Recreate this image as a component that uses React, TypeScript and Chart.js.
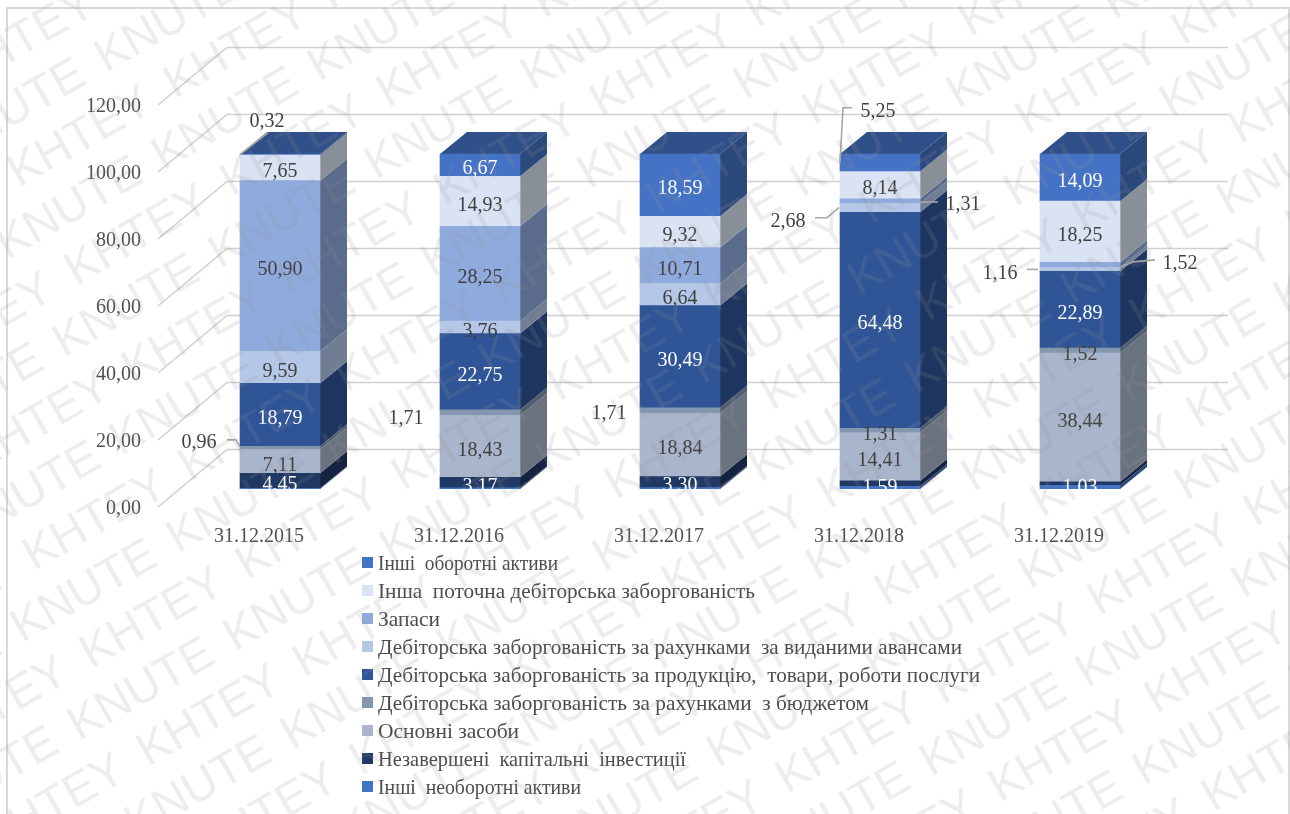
import React, { useEffect, useRef } from "react";
import { Chart, registerables } from "chart.js";

Chart.register(...registerables);

const categories = ["31.12.2015", "31.12.2016", "31.12.2017", "31.12.2018", "31.12.2019"];

const otherNonCurrent = [0.23, 0.33, 0.4, 0.83, 1.1];
const unfinishedInvestment = [4.45, 3.17, 3.3, 1.59, 1.03];
const fixedAssets = [7.11, 18.43, 18.84, 14.41, 38.44];
const budgetReceivables = [0.96, 1.71, 1.71, 1.31, 1.52];
const tradeReceivables = [18.79, 22.75, 30.49, 64.48, 22.89];
const advanceReceivables = [9.59, 3.76, 6.64, 2.68, 1.16];
const inventories = [50.9, 28.25, 10.71, 1.31, 1.52];
const otherReceivables = [7.65, 14.93, 9.32, 8.14, 18.25];
const otherCurrent = [0.32, 6.67, 18.59, 5.25, 14.09];

const seriesNames = [
  "Інші  необоротні активи",
  "Незавершені  капітальні  інвестиції",
  "Основні засоби",
  "Дебіторська заборгованість за рахунками  з бюджетом",
  "Дебіторська заборгованість за продукцію,  товари, роботи послуги",
  "Дебіторська заборгованість за рахунками  за виданими авансами",
  "Запаси",
  "Інша  поточна дебіторська заборгованість",
  "Інші  оборотні активи",
];
const seriesValues = [
  otherNonCurrent,
  unfinishedInvestment,
  fixedAssets,
  budgetReceivables,
  tradeReceivables,
  advanceReceivables,
  inventories,
  otherReceivables,
  otherCurrent,
];
const seriesColors = [
  "#4472C4",
  "#203864",
  "#A9B5CB",
  "#8497B0",
  "#2F5597",
  "#B4C7E7",
  "#8FAADC",
  "#DAE3F3",
  "#4472C4",
];
const whiteLabelSeries = [1, 4, 8];
const unlabelledSeries = [0];

// Width each key entry is set to, in series order.
const keyTextWidths = [203, 308, 143, 491, 602, 584, 63, 377, 180];

// Labels that sit away from their segment: offset from the segment centre and leader points.
type Callout = { dx: number; dy: number; leader?: [number, number][] };
const callouts: Record<string, Callout> = {
  "8-0": { dx: -13, dy: -33, leader: [[-40, 0], [-12, -22]] },
  "3-0": { dx: -81, dy: -5, leader: [[-53, -8], [-44, -8], [-40, -1]] },
  "3-1": { dx: -74, dy: 6 },
  "3-2": { dx: -71, dy: 3 },
  "5-3": { dx: -92, dy: 14, leader: [[-65, 10], [-53, 10], [-41, 0]] },
  "6-3": { dx: 83, dy: 4, leader: [[40, 1], [58, 1]] },
  "8-3": { dx: -2, dy: -51, leader: [[-40, 0], [-37, -55], [-28, -55]] },
  "5-4": { dx: -80, dy: 4, leader: [[-53, 0], [-42, 0]] },
  "6-4": { dx: 100, dy: -1, leader: [[40, 2], [53, -3], [75, -5]] },
};

const SERIF = '"Liberation Serif"';
const BAR_DEPTH = { x: 27, y: -22 };
const WALL_FRONT = { x: 158, y: 18 };
const WALL_BACK = { x: 227, y: -39.5 };
const WALL_RIGHT = 1228;

function shade(hex: string, k: number): string {
  const n = parseInt(hex.slice(1), 16);
  const c = [(n >> 16) & 255, (n >> 8) & 255, n & 255].map((v) => Math.round(v * k));
  return `rgb(${c[0]},${c[1]},${c[2]})`;
}

const fmt = (v: number) => v.toFixed(2).replace(".", ",");

// Walls and the side and top faces of each column, under the front faces.
const depthPlugin = {
  id: "depth",
  beforeDatasetsDraw(chart: any) {
    const { ctx, scales } = chart;
    ctx.save();
    ctx.strokeStyle = "#D0D0D0";
    ctx.lineWidth = 1.6;
    for (const tick of scales.y.ticks) {
      const y = scales.y.getPixelForValue(tick.value);
      ctx.beginPath();
      ctx.moveTo(WALL_FRONT.x, y + WALL_FRONT.y);
      ctx.lineTo(WALL_BACK.x, y + WALL_BACK.y);
      ctx.lineTo(WALL_RIGHT, y + WALL_BACK.y);
      ctx.stroke();
    }
    chart.data.datasets.forEach((ds: any, d: number) => {
      chart.getDatasetMeta(d).data.forEach((bar: any) => {
        const right = bar.x + bar.width / 2;
        const left = bar.x - bar.width / 2;
        ctx.fillStyle = shade(ds.backgroundColor, 0.63);
        ctx.beginPath();
        ctx.moveTo(right, bar.base);
        ctx.lineTo(right + BAR_DEPTH.x, bar.base + BAR_DEPTH.y);
        ctx.lineTo(right + BAR_DEPTH.x, bar.y + BAR_DEPTH.y);
        ctx.lineTo(right, bar.y);
        ctx.closePath();
        ctx.fill();
        if (d === chart.data.datasets.length - 1) {
          ctx.fillStyle = shade(ds.backgroundColor, 0.7);
          ctx.beginPath();
          ctx.moveTo(left, bar.y);
          ctx.lineTo(left + BAR_DEPTH.x, bar.y + BAR_DEPTH.y);
          ctx.lineTo(right + BAR_DEPTH.x, bar.y + BAR_DEPTH.y);
          ctx.lineTo(right, bar.y);
          ctx.closePath();
          ctx.fill();
        }
      });
    });
    ctx.restore();
  },
};

// Value labels with their leader lines.
const labelPlugin = {
  id: "valueLabels",
  afterDatasetsDraw(chart: any) {
    const { ctx, scales } = chart;
    const floor = scales.y.getPixelForValue(0);
    ctx.save();
    ctx.font = `20px ${SERIF}`;
    ctx.textAlign = "center";
    ctx.textBaseline = "middle";
    chart.data.datasets.forEach((ds: any, d: number) => {
      if (unlabelledSeries.includes(d)) return;
      chart.getDatasetMeta(d).data.forEach((bar: any, i: number) => {
        const cy = (bar.y + bar.base) / 2;
        const c = callouts[`${d}-${i}`];
        if (c && c.leader) {
          ctx.strokeStyle = "#A6A6A6";
          ctx.lineWidth = 1.6;
          ctx.beginPath();
          c.leader.forEach(([lx, ly], k) => {
            if (k === 0) ctx.moveTo(bar.x + lx, cy + ly);
            else ctx.lineTo(bar.x + lx, cy + ly);
          });
          ctx.stroke();
        }
        ctx.fillStyle = !c && whiteLabelSeries.includes(d) ? "#FFFFFF" : "#404040";
        const text = fmt(ds.data[i]);
        ctx.save();
        if (!c) {
          // Labels of the lowest segments are cut off at the column's foot.
          ctx.beginPath();
          ctx.rect(0, 0, chart.width, floor);
          ctx.clip();
        }
        ctx.fillText(text, bar.x + (c ? c.dx : 0), cy + (c ? c.dy : 4));
        ctx.restore();
      });
    });
    ctx.restore();
  },
};

// Vertical key, the frame, and the repeated diagonal lettering across everything.
const finishPlugin = {
  id: "finish",
  afterDraw(chart: any) {
    const { ctx } = chart;
    ctx.save();
    ctx.textAlign = "left";
    ctx.textBaseline = "middle";
    ctx.font = `21.5px ${SERIF}`;
    const count = chart.data.datasets.length;
    for (let r = 0; r < count; r++) {
      const d = count - 1 - r;
      const ds = chart.data.datasets[d];
      const y = 564 + r * 28;
      ctx.fillStyle = ds.backgroundColor;
      ctx.fillRect(362, y - 7, 11, 11);
      ctx.fillStyle = "#4C4C4C";
      ctx.fillText(ds.label, 378, y, keyTextWidths[d]);
    }

    ctx.strokeStyle = "#D9D9D9";
    ctx.lineWidth = 2;
    ctx.beginPath();
    ctx.moveTo(7, 814);
    ctx.lineTo(7, 8);
    ctx.lineTo(1289, 8);
    ctx.lineTo(1289, 814);
    ctx.stroke();

    // Two interleaved lattices, one word per lattice.
    const angle = (-29.7 * Math.PI) / 180;
    const stepAlong = { x: 156, y: -89 };
    const stepAcross = { x: 57, y: 98 };
    const lattices: [string, number, number][] = [
      ["KNUTE", 22, 643],
      ["KHTEY", 91, 669],
    ];
    ctx.font = '47px "Liberation Sans"';
    ctx.fillStyle = "rgba(150,150,150,0.17)";
    ctx.textBaseline = "alphabetic";
    for (const [word, ox, oy] of lattices) {
      for (let j = -10; j <= 6; j++) {
        for (let i = -6; i <= 14; i++) {
          const x = ox + i * stepAlong.x + j * stepAcross.x;
          const y = oy + i * stepAlong.y + j * stepAcross.y;
          if (x < -220 || x > 1300 || y < -20 || y > 950) continue;
          ctx.save();
          ctx.translate(x, y);
          ctx.rotate(angle);
          ctx.fillText(word, 0, 0);
          ctx.restore();
        }
      }
    }
    ctx.restore();
  },
};

export default function App() {
  const ref = useRef<HTMLCanvasElement>(null);
  useEffect(() => {
    const chart = new Chart(ref.current as HTMLCanvasElement, {
      type: "bar",
      data: {
        labels: categories,
        datasets: seriesNames.map((label, i) => ({
          label,
          data: seriesValues[i],
          backgroundColor: seriesColors[i],
          borderWidth: 0,
          barThickness: 80,
        })),
      },
      options: {
        responsive: false,
        animation: false,
        events: [],
        layout: { padding: { top: 87, right: 110, left: 0, bottom: 0 } },
        plugins: { legend: { display: false }, tooltip: { enabled: false }, title: { display: false } },
        scales: {
          x: {
            stacked: true,
            grid: { display: false },
            border: { display: false },
            afterFit: (s: any) => {
              s.height = 325;
            },
            ticks: {
              maxRotation: 0,
              autoSkip: false,
              padding: 28,
              labelOffset: -21,
              color: "#505050",
              font: { family: SERIF, size: 20 },
            },
          },
          y: {
            stacked: true,
            min: 0,
            max: 120,
            grid: { display: false, drawTicks: false },
            border: { display: false },
            afterFit: (s: any) => {
              s.width = 180;
            },
            ticks: {
              stepSize: 20,
              padding: 39,
              labelOffset: 20,
              color: "#505050",
              font: { family: SERIF, size: 20 },
              callback: (v: any) => fmt(Number(v)),
            },
          },
        },
      },
      plugins: [depthPlugin, labelPlugin, finishPlugin],
    } as any);
    return () => chart.destroy();
  }, []);
  return (
    <div style={{ position: "fixed", left: 0, top: 0, width: 1290, height: 814, overflow: "hidden", background: "#fff" }}>
      <canvas ref={ref} width={1290} height={814} style={{ display: "block" }} />
    </div>
  );
}
